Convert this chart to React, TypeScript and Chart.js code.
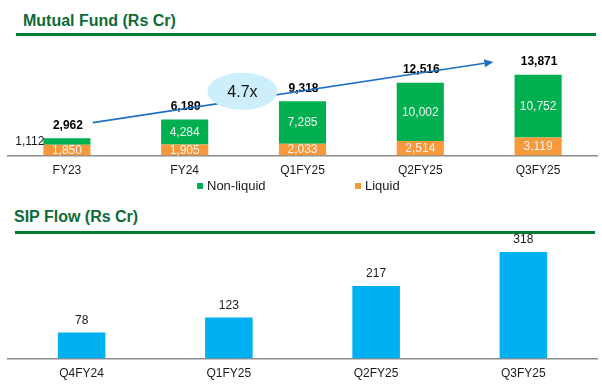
import React, { useEffect, useRef } from "react";
import { Chart, registerables } from "chart.js";

Chart.register(...registerables);

const FONT = '"Liberation Sans", Arial, Helvetica, sans-serif';

// ---- Mutual Fund data ----
const MF_CATEGORIES = ["FY23", "FY24", "Q1FY25", "Q2FY25", "Q3FY25"];
const MF_LIQUID = [1850, 1905, 2033, 2514, 3119];
const MF_NON_LIQUID = [1112, 4284, 7285, 10002, 10752];
const MF_TOTAL = [2962, 6189, 9318, 12516, 13871];
const MF_SERIES_NAMES = ["Liquid", "Non-liquid"];
const GROWTH_LABEL = "4.7x";

// ---- SIP Flow data ----
const SIP_CATEGORIES = ["Q4FY24", "Q1FY25", "Q2FY25", "Q3FY25"];
const SIP_VALUES = [78, 123, 217, 318];

const GREEN = "#00B050";
const ORANGE = "#F7993A";
const BLUE = "#00B0F0";
const TITLE_GREEN = "#0E6B38";
const RULE_GREEN = "#007A33";
const AXIS_GRAY = "#8C8C8C";
const TEXT = "#1A1A1A";

const fmt = (v: number) => v.toLocaleString("en-US");

const mfPlugin = {
  id: "mfAnnotations",
  afterDatasetsDraw(chart: any) {
    const ctx = chart.ctx;
    const xs = chart.scales.x;
    const ys = chart.scales.y;
    const metaL = chart.getDatasetMeta(0);
    const metaN = chart.getDatasetMeta(1);
    ctx.save();
    ctx.textAlign = "center";
    ctx.textBaseline = "middle";

    // segment labels
    ctx.font = `12px ${FONT}`;
    metaL.data.forEach((bar: any, i: number) => {
      const p = bar.getProps(["x", "y", "base", "width"], true);
      ctx.fillStyle = "#F4F4F4";
      ctx.fillText(fmt(MF_LIQUID[i]), p.x, (p.y + p.base) / 2 + 0.5);
    });
    metaN.data.forEach((bar: any, i: number) => {
      const p = bar.getProps(["x", "y", "base", "width"], true);
      const h = Math.abs(p.base - p.y);
      if (h < 14) {
        ctx.textAlign = "right";
        ctx.fillStyle = TEXT;
        ctx.fillText(fmt(MF_NON_LIQUID[i]), p.x - p.width / 2 + 1, (p.y + p.base) / 2);
        ctx.textAlign = "center";
      } else {
        ctx.fillStyle = "#F4F4F4";
        ctx.fillText(fmt(MF_NON_LIQUID[i]), p.x, (p.y + p.base) / 2 + 0.5);
      }
    });

    // totals
    ctx.font = `bold 12px ${FONT}`;
    ctx.fillStyle = "#000";
    metaN.data.forEach((bar: any, i: number) => {
      const p = bar.getProps(["x", "y"], true);
      ctx.fillText(fmt(MF_TOTAL[i]), p.x + 1, p.y - 13);
    });

    // growth arrow
    const x1 = xs.getPixelForValue(0.22);
    const y1 = ys.getPixelForValue(5650);
    const x2 = xs.getPixelForValue(3.62);
    const y2 = ys.getPixelForValue(16070);
    const ang = Math.atan2(y2 - y1, x2 - x1);
    const headLen = 9;
    const headW = 4;
    const bx = x2 - headLen * Math.cos(ang);
    const by = y2 - headLen * Math.sin(ang);
    ctx.strokeStyle = "#1F6FC0";
    ctx.fillStyle = "#1F6FC0";
    ctx.lineWidth = 1.6;
    ctx.beginPath();
    ctx.moveTo(x1, y1);
    ctx.lineTo(bx, by);
    ctx.stroke();
    ctx.beginPath();
    ctx.moveTo(x2, y2);
    ctx.lineTo(bx + headW * Math.sin(ang), by - headW * Math.cos(ang));
    ctx.lineTo(bx - headW * Math.sin(ang), by + headW * Math.cos(ang));
    ctx.closePath();
    ctx.fill();

    // bubble
    const cx = xs.getPixelForValue(1.49);
    const cy = ys.getPixelForValue(11030);
    ctx.fillStyle = "#CDEEFB";
    ctx.beginPath();
    ctx.ellipse(cx, cy, 35, 18.5, 0, 0, Math.PI * 2);
    ctx.fill();
    ctx.fillStyle = "#111";
    ctx.font = `16px ${FONT}`;
    ctx.fillText(GROWTH_LABEL, cx, cy + 1);
    ctx.restore();
  },
};

const sipPlugin = {
  id: "sipLabels",
  afterDatasetsDraw(chart: any) {
    const ctx = chart.ctx;
    const meta = chart.getDatasetMeta(0);
    ctx.save();
    ctx.textAlign = "center";
    ctx.textBaseline = "middle";
    ctx.font = `12px ${FONT}`;
    ctx.fillStyle = TEXT;
    meta.data.forEach((bar: any, i: number) => {
      const p = bar.getProps(["x", "y"], true);
      ctx.fillText(String(SIP_VALUES[i]), p.x, p.y - 12);
    });
    ctx.restore();
  },
};

const xAxis = (stacked: boolean) => ({
  stacked,
  offset: true,
  grid: { display: false, drawTicks: false },
  border: { display: true, color: AXIS_GRAY, width: 1.5 },
  ticks: { color: TEXT, font: { size: 12, family: FONT }, padding: 8, maxRotation: 0, autoSkip: false },
});

export default function App() {
  const mfRef = useRef<HTMLCanvasElement>(null);
  const sipRef = useRef<HTMLCanvasElement>(null);

  useEffect(() => {
    const mf = new Chart(mfRef.current as HTMLCanvasElement, {
      type: "bar",
      data: {
        labels: MF_CATEGORIES,
        datasets: [
          { label: MF_SERIES_NAMES[0], data: MF_LIQUID, backgroundColor: ORANGE, categoryPercentage: 1, barPercentage: 0.4 },
          { label: MF_SERIES_NAMES[1], data: MF_NON_LIQUID, backgroundColor: GREEN, categoryPercentage: 1, barPercentage: 0.4 },
        ],
      },
      options: {
        responsive: false,
        animation: false,
        layout: { padding: { left: 8, right: 5, top: 0, bottom: 0 } },
        plugins: { legend: { display: false }, tooltip: { enabled: false } },
        scales: {
          x: xAxis(true),
          y: { stacked: true, display: false, min: 0, max: 20000 },
        },
      },
      plugins: [mfPlugin],
    });
    const sip = new Chart(sipRef.current as HTMLCanvasElement, {
      type: "bar",
      data: {
        labels: SIP_CATEGORIES,
        datasets: [
          { label: "SIP Flow", data: SIP_VALUES, backgroundColor: BLUE, categoryPercentage: 1, barPercentage: 0.323 },
        ],
      },
      options: {
        responsive: false,
        animation: false,
        layout: { padding: { left: 8, right: 5, top: 12, bottom: 0 } },
        plugins: { legend: { display: false }, tooltip: { enabled: false } },
        scales: {
          x: xAxis(false),
          y: { display: false, min: 0, max: 360 },
        },
      },
      plugins: [sipPlugin],
    });
    return () => {
      mf.destroy();
      sip.destroy();
    };
  }, []);

  return (
    <div style={{ position: "fixed", left: 0, top: 0, width: 602, height: 390, background: "#fff", fontFamily: FONT, overflow: "hidden" }}>
      <div style={{ position: "absolute", left: 23, top: 11, fontSize: 16, lineHeight: "19px", fontWeight: "bold", color: TITLE_GREEN, whiteSpace: "nowrap" }}>
        Mutual Fund (Rs Cr)
      </div>
      <div style={{ position: "absolute", left: 16, top: 33, width: 580, height: 3, background: RULE_GREEN }} />
      <canvas ref={mfRef} width={602} height={147} style={{ position: "absolute", left: 0, top: 39 }} />
      <div style={{ position: "absolute", left: 197, top: 183, width: 6, height: 6, background: GREEN }} />
      <div style={{ position: "absolute", left: 207, top: 178, fontSize: 13, lineHeight: "16px", color: TEXT, whiteSpace: "nowrap" }}>
        {MF_SERIES_NAMES[1]}
      </div>
      <div style={{ position: "absolute", left: 355, top: 183, width: 6, height: 6, background: ORANGE }} />
      <div style={{ position: "absolute", left: 365, top: 178, fontSize: 13, lineHeight: "16px", color: TEXT, whiteSpace: "nowrap" }}>
        {MF_SERIES_NAMES[0]}
      </div>

      <div style={{ position: "absolute", left: 14, top: 207, fontSize: 16, lineHeight: "19px", fontWeight: "bold", color: TITLE_GREEN, whiteSpace: "nowrap" }}>
        SIP Flow (Rs Cr)
      </div>
      <div style={{ position: "absolute", left: 15, top: 231, width: 580, height: 3, background: RULE_GREEN }} />
      <canvas ref={sipRef} width={602} height={163} style={{ position: "absolute", left: 0, top: 226 }} />
    </div>
  );
}
